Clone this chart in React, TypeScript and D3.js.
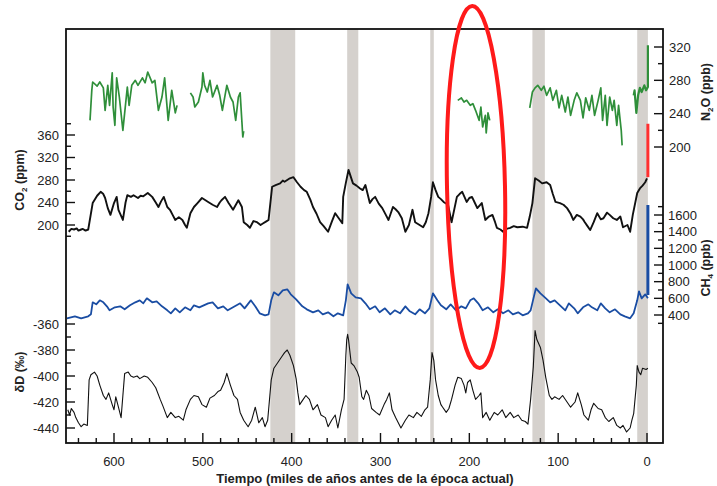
import React from "react";
import * as d3 from "d3";

// ---------- DATA (time in kyr before present) ----------
const xTicksMajor = [600, 500, 400, 300, 200, 100, 0];
const co2TickLabels = [200, 240, 280, 320, 360];
const ddTickLabels = [-440, -420, -400, -380, -360];
const n2oTickLabels = [200, 240, 280, 320];
const ch4TickLabels = [400, 600, 800, 1000, 1200, 1400, 1600];

const interglacials: [number, number][] = [
  [424, 396], [337.5, 325], [244, 240], [129, 115], [11, -1],
];

const co2: [number, number][] = [
  [651,188],[648,193],[645,192],[642,194],[640,190],[637,192],[635,193],[632,190],[629,192],[624,239],[619,252],[615,259],[612,255],[610,248],[607,230],[604,218],[600,239],[597,250],[595,227],[590,209],[587,240],[585,253],[581,250],[578,253],[573,248],[570,252],[567,251],[562,257],[557,250],[553,240],[550,232],[547,242],[544,250],[540,232],[537,227],[534,218],[531,209],[527,214],[523,209],[520,200],[518,195],[514,221],[510,232],[506,239],[501,248],[497,244],[494,241],[489,236],[484,232],[481,240],[479,244],[475,250],[471,239],[468,232],[466,227],[460,244],[456,232],[454,205],[450,200],[447,195],[443,207],[439,205],[435,200],[432,203],[429,206],[426,209],[422,268],[418,271],[413,274],[410,279],[408,277],[405,280],[402,283],[398,285],[394,276],[390,268],[386,262],[383,259],[379,245],[376,232],[372,220],[368,205],[364,198],[359,188],[355,205],[351,221],[347,212],[343,203],[342,250],[339,275],[336,298],[331,274],[327,270],[323,265],[320,262],[317,271],[312,239],[309,246],[306,250],[302,238],[298,230],[294,218],[291,209],[286,232],[283,228],[280,223],[276,212],[272,188],[268,200],[264,227],[261,205],[256,200],[252,196],[249,205],[246,221],[243,250],[241,276],[238,262],[235,250],[232,246],[229,241],[224,236],[220,205],[214,250],[211,255],[208,259],[203,241],[200,248],[197,250],[194,240],[191,230],[186,239],[182,209],[178,215],[174,218],[171,205],[169,195],[165,192],[162,188],[158,193],[154,195],[150,198],[146,196],[140,197],[135,195],[132,215],[129,239],[126,283],[122,279],[118,274],[113,276],[109,271],[106,255],[103,241],[98,239],[94,236],[90,230],[86,220],[83,209],[79,218],[75,215],[72,210],[70,205],[67,198],[64,191],[60,205],[56,221],[52,210],[49,212],[45,222],[42,218],[38,212],[34,209],[30,215],[27,196],[22,200],[19,188],[16,218],[11,257],[8,265],[5,270],[2,276],[0,283],
];
const co2Modern: [number, number][] = [[-1, 285], [-1, 380]];

const ch4: [number, number][] = [
  [653,360],[644,384],[637,360],[629,384],[626,408],[624,552],[620,528],[616,576],[612,552],[608,504],[605,456],[599,492],[593,504],[588,468],[582,516],[576,552],[571,576],[567,540],[563,600],[557,552],[552,564],[546,504],[540,456],[536,420],[531,480],[526,432],[520,492],[514,456],[510,516],[504,492],[499,516],[494,540],[489,552],[483,480],[477,504],[472,456],[466,492],[458,540],[453,480],[446,576],[441,504],[436,420],[430,396],[426,408],[423,576],[420,672],[415,636],[410,696],[405,708],[401,648],[395,588],[388,504],[383,468],[376,432],[370,456],[365,408],[359,432],[353,384],[348,420],[342,396],[339,576],[337,768],[333,660],[328,612],[322,600],[317,540],[312,468],[306,504],[301,432],[295,480],[289,408],[284,456],[278,420],[272,504],[267,444],[261,408],[256,468],[250,420],[245,480],[241,660],[236,576],[232,516],[226,468],[221,528],[215,456],[209,504],[204,480],[199,576],[195,600],[190,540],[185,456],[179,492],[173,432],[168,468],[162,420],[156,456],[151,408],[145,432],[140,396],[134,420],[131,456],[127,636],[125,720],[120,660],[115,612],[109,552],[104,576],[98,516],[92,456],[88,540],[82,480],[78,420],[72,492],[66,528],[62,492],[56,456],[52,540],[47,480],[42,432],[36,468],[30,408],[25,384],[19,360],[15,420],[11,576],[9,684],[6,600],[2,648],[-1,600],
];
const ch4Modern: [number, number][] = [[-1, 640], [-1, 1720]];

const deltaD: [number, number][] = [
  [652,-426],[650,-430],[648,-425],[645,-428],[643,-432],[640,-436],[637,-439],[634,-437],[630,-438],[628,-403],[626,-399],[622,-397],[619,-400],[616,-407],[612,-415],[609,-418],[606,-413],[602,-422],[600,-426],[598,-416],[595,-424],[592,-432],[590,-415],[588,-398],[584,-397],[581,-400],[578,-401],[574,-400],[571,-402],[566,-400],[562,-401],[557,-405],[553,-409],[548,-418],[545,-423],[540,-432],[536,-428],[531,-432],[527,-431],[522,-434],[519,-426],[514,-418],[510,-415],[505,-416],[501,-422],[496,-424],[492,-417],[487,-415],[483,-412],[480,-411],[476,-405],[473,-398],[469,-407],[465,-415],[461,-418],[458,-428],[454,-434],[449,-439],[445,-434],[441,-424],[437,-436],[433,-432],[430,-439],[427,-434],[423,-403],[420,-394],[415,-389],[411,-385],[408,-382],[405,-380],[402,-384],[398,-392],[395,-402],[393,-413],[391,-422],[387,-418],[384,-415],[380,-418],[376,-426],[371,-422],[367,-430],[362,-432],[359,-439],[355,-434],[351,-430],[348,-440],[344,-426],[341,-418],[339,-384],[338,-372],[337,-368],[336,-372],[333,-390],[330,-392],[326,-397],[324,-401],[321,-416],[319,-418],[316,-411],[313,-415],[310,-425],[305,-428],[301,-430],[296,-422],[293,-418],[290,-413],[287,-426],[283,-432],[277,-440],[272,-434],[268,-430],[263,-432],[259,-428],[254,-431],[250,-426],[247,-424],[244,-403],[242,-382],[240,-388],[238,-403],[235,-415],[232,-422],[230,-424],[226,-428],[223,-425],[220,-418],[216,-407],[213,-401],[209,-402],[206,-407],[204,-413],[202,-405],[199,-403],[196,-411],[193,-418],[189,-415],[187,-413],[185,-432],[181,-428],[177,-434],[172,-428],[168,-430],[163,-426],[159,-432],[154,-428],[150,-432],[145,-430],[141,-434],[137,-435],[134,-437],[131,-418],[128,-393],[126,-365],[124,-372],[120,-378],[117,-388],[114,-401],[110,-415],[107,-418],[104,-416],[99,-418],[95,-415],[90,-420],[86,-424],[81,-420],[78,-413],[74,-422],[71,-430],[66,-434],[63,-426],[60,-421],[55,-425],[51,-426],[47,-432],[43,-435],[38,-432],[34,-438],[30,-440],[27,-438],[23,-443],[19,-440],[17,-434],[15,-429],[12,-407],[11,-392],[9,-397],[7,-399],[5,-394],[1,-395],[-1,-394],
];

const n2oSeg1: [number, number][] = [
  [627,232],[625,268],[624,278],[619,273],[616,278],[612,271],[610,244],[607,274],[605,250],[602,289],[601,248],[599,226],[597,283],[594,260],[590,220],[585,272],[583,250],[580,274],[576,280],[573,274],[568,283],[565,277],[562,290],[557,277],[554,280],[550,244],[546,260],[543,283],[539,232],[535,268],[531,241],[529,250],
];
const n2oSeg2: [number, number][] = [
  [514,265],[511,260],[509,248],[505,254],[501,272],[500,289],[498,274],[495,266],[492,280],[489,260],[484,274],[481,262],[478,244],[473,274],[469,260],[466,254],[463,232],[460,260],[458,265],[456,230],[455,212],[454,219],
];
const n2oSeg3: [number, number][] = [
  [213,256],[209,259],[206,254],[203,256],[199,250],[196,252],[193,244],[189,232],[187,248],[185,224],[182,238],[181,217],[179,241],[177,232],
];
const n2oSeg4: [number, number][] = [
  [132,247],[129,266],[126,271],[123,274],[119,268],[116,273],[113,262],[109,271],[106,256],[102,268],[99,247],[96,262],[92,242],[89,260],[86,238],[82,256],[79,265],[75,256],[72,235],[69,259],[65,244],[62,262],[59,238],[55,256],[52,271],[50,232],[47,262],[45,226],[42,260],[39,244],[37,256],[34,226],[32,250],[29,220],[28,202],
];
const n2oSeg5: [number, number][] = [
  [15,262],[14,268],[12,241],[10,262],[8,271],[6,266],[3,274],[1,268],[-1,272],[-1,322],
];

// ---------- SCALES ----------
const x = d3.scaleLinear().domain([0, 600]).range([647, 114]);
const yCO2 = d3.scaleLinear().domain([200, 360]).range([225, 135]);
const yDD = d3.scaleLinear().domain([-440, -360]).range([428, 324]);
const yN2O = d3.scaleLinear().domain([200, 320]).range([147, 47]);
const yCH4 = d3.scaleLinear().domain([400, 1600]).range([315, 215]);

const L = 66, R = 663, TOP = 29, BOT = 443;
const FONT = "'Liberation Sans', Arial, Helvetica, sans-serif";

const mkLine = (ys: d3.ScaleLinear<number, number>) =>
  d3.line<[number, number]>().x((d) => x(d[0])).y((d) => ys(d[1]));

export default function App() {
  const lCO2 = mkLine(yCO2);
  const lDD = mkLine(yDD);
  const lN2O = mkLine(yN2O);
  const lCH4 = mkLine(yCH4);

  const xTicks = d3.range(0, 660, 20).filter((t) => x(t) > L + 2);
  const co2Ticks = d3.range(180, 381, 20);
  const ddTicks = d3.range(-440, -359, 10);
  const n2oTicks = d3.range(200, 321, 20);
  const ch4Ticks = d3.range(300, 1701, 100);

  const green = "#2f8f3a";
  const blue = "#1a4da3";

  return (
    <svg
      width={717}
      height={486}
      style={{ position: "absolute", left: 0, top: 0, background: "#fff" }}
      fontFamily={FONT}
    >
      {interglacials.map(([a, b], i) => (
        <rect key={i} x={x(a)} y={TOP} width={x(b) - x(a)} height={BOT - TOP} fill="#d5d1cd" />
      ))}

      <path d={lN2O(n2oSeg1)!} fill="none" stroke={green} strokeWidth={1.7} strokeLinejoin="round" />
      <path d={lN2O(n2oSeg2)!} fill="none" stroke={green} strokeWidth={1.7} strokeLinejoin="round" />
      <path d={lN2O(n2oSeg3)!} fill="none" stroke={green} strokeWidth={1.7} strokeLinejoin="round" />
      <path d={lN2O(n2oSeg4)!} fill="none" stroke={green} strokeWidth={1.7} strokeLinejoin="round" />
      <path d={lN2O(n2oSeg5)!} fill="none" stroke={green} strokeWidth={2.2} strokeLinejoin="round" />

      <path d={lCO2(co2)!} fill="none" stroke="#111" strokeWidth={1.9} strokeLinejoin="round" />
      <path d={lCO2(co2Modern)!} fill="none" stroke="#ff3030" strokeWidth={3} />

      <path d={lCH4(ch4)!} fill="none" stroke={blue} strokeWidth={1.8} strokeLinejoin="round" />
      <path d={lCH4(ch4Modern)!} fill="none" stroke={blue} strokeWidth={3} />

      <path d={lDD(deltaD)!} fill="none" stroke="#111" strokeWidth={1.1} strokeLinejoin="round" />

      <rect x={L} y={TOP} width={R - L} height={BOT - TOP} fill="none" stroke="#111" strokeWidth={1.8} />

      {xTicks.map((t) => {
        const major = t % 100 === 0;
        return (
          <line key={t} x1={x(t)} x2={x(t)} y1={BOT} y2={BOT - (major ? 10 : 5)} stroke="#111" strokeWidth={1.4} />
        );
      })}
      {xTicksMajor.map((t) => (
        <text key={t} x={x(t)} y={466} textAnchor="middle" fontSize={13} fill="#222">
          {t}
        </text>
      ))}
      <text x={365} y={483} textAnchor="middle" fontSize={13} fontWeight="bold" fill="#222">
        Tiempo (miles de años antes de la época actual)
      </text>

      {co2Ticks.map((v) => (
        <line key={v} x1={L} x2={L + (v % 40 === 0 ? 9 : 5)} y1={yCO2(v)} y2={yCO2(v)} stroke="#111" strokeWidth={1.4} />
      ))}
      {co2TickLabels.map((v) => (
        <text key={v} x={59} y={yCO2(v) + 4.5} textAnchor="end" fontSize={13} fill="#222">
          {v}
        </text>
      ))}
      <text transform={`translate(24,180) rotate(-90)`} textAnchor="middle" fontSize={12.5} fontWeight="bold" fill="#222">
        CO<tspan fontSize={8} dy={3}>2</tspan><tspan dy={-3}> (ppm)</tspan>
      </text>

      {ddTicks.map((v) => (
        <line key={v} x1={L} x2={L + (v % 20 === 0 ? 9 : 5)} y1={yDD(v)} y2={yDD(v)} stroke="#111" strokeWidth={1.4} />
      ))}
      {ddTickLabels.map((v) => (
        <text key={v} x={59} y={yDD(v) + 4.5} textAnchor="end" fontSize={13} fill="#222">
          {v}
        </text>
      ))}
      <text transform={`translate(24,372) rotate(-90)`} textAnchor="middle" fontSize={12.5} fontWeight="bold" fill="#222">
        δD (‰)
      </text>

      {n2oTicks.map((v) => (
        <line key={v} x1={R} x2={R - (v % 40 === 0 ? 9 : 5)} y1={yN2O(v)} y2={yN2O(v)} stroke="#111" strokeWidth={1.4} />
      ))}
      {n2oTickLabels.map((v) => (
        <text key={v} x={669} y={yN2O(v) + 4.5} textAnchor="start" fontSize={13} fill="#222">
          {v}
        </text>
      ))}
      <text transform={`translate(710,92) rotate(-90)`} textAnchor="middle" fontSize={12.5} fontWeight="bold" fill="#222">
        N<tspan fontSize={8} dy={3}>2</tspan><tspan dy={-3}>O (ppb)</tspan>
      </text>

      {ch4Ticks.map((v) => (
        <line key={v} x1={R} x2={R - (v % 200 === 0 ? 9 : 5)} y1={yCH4(v)} y2={yCH4(v)} stroke="#111" strokeWidth={1.4} />
      ))}
      {ch4TickLabels.map((v) => (
        <text key={v} x={668} y={yCH4(v) + 4.5} textAnchor="start" fontSize={13} fill="#222">
          {v}
        </text>
      ))}
      <text transform={`translate(710,268) rotate(-90)`} textAnchor="middle" fontSize={12.5} fontWeight="bold" fill="#222">
        CH<tspan fontSize={8} dy={3}>4</tspan><tspan dy={-3}> (ppb)</tspan>
      </text>

      <ellipse cx={476} cy={187} rx={29} ry={181} fill="none" stroke="#ff1a1a" strokeWidth={4} transform="rotate(-1.2 476 187)" />
    </svg>
  );
}
